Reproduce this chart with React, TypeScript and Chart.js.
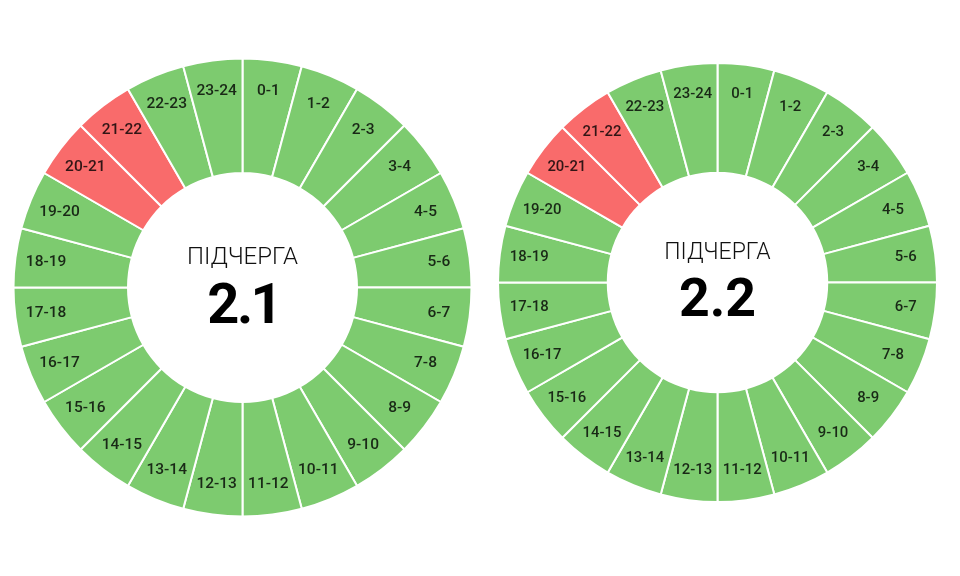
import React, { useEffect, useRef } from "react";
import { Chart, registerables } from "chart.js";

Chart.register(...registerables);

const hourLabels = [
  "0-1", "1-2", "2-3", "3-4", "4-5", "5-6", "6-7", "7-8", "8-9", "9-10", "10-11", "11-12",
  "12-13", "13-14", "14-15", "15-16", "16-17", "17-18", "18-19", "19-20", "20-21", "21-22", "22-23", "23-24",
];

// every hour slot has equal weight
const slotValues = [1, 1, 1, 1, 1, 1, 1, 1, 1, 1, 1, 1, 1, 1, 1, 1, 1, 1, 1, 1, 1, 1, 1, 1];

// 0 = power on (green), 1 = outage (red)
const status21 = [0, 0, 0, 0, 0, 0, 0, 0, 0, 0, 0, 0, 0, 0, 0, 0, 0, 0, 0, 0, 1, 1, 0, 0];
const status22 = [0, 0, 0, 0, 0, 0, 0, 0, 0, 0, 0, 0, 0, 0, 0, 0, 0, 0, 0, 0, 1, 1, 0, 0];

const GREEN = "#7dcb6f";
const RED = "#f96b6b";

const segLabelPlugin = {
  id: "segLabels",
  afterDatasetsDraw(chart: any, _args: any, opts: any) {
    const meta = chart.getDatasetMeta(0);
    const ctx = chart.ctx;
    const s = opts.scale || 1;
    ctx.save();
    ctx.textAlign = "center";
    ctx.textBaseline = "middle";
    ctx.fillStyle = "rgba(0,0,0,0.8)";
    ctx.font = `500 ${Math.round(15.5 * s * 10) / 10}px Roboto`;
    let cx = 0;
    let cy = 0;
    meta.data.forEach((arc: any, i: number) => {
      const p = arc.getProps(["x", "y", "startAngle", "endAngle", "innerRadius", "outerRadius"], true);
      cx = p.x;
      cy = p.y;
      const a = (p.startAngle + p.endAngle) / 2;
      const r = p.innerRadius + (p.outerRadius - p.innerRadius) * opts.frac;
      ctx.fillText(chart.data.labels[i], p.x + Math.cos(a) * r, p.y + Math.sin(a) * r);
    });
    ctx.textBaseline = "alphabetic";
    ctx.fillStyle = "#111";
    ctx.font = `300 ${24 * s}px Roboto`;
    ctx.fillText(opts.title, cx, cy - 24 * s);
    ctx.fillStyle = "#000";
    ctx.font = `bold ${56 * s}px Roboto`;
    (ctx as any).letterSpacing = `${opts.numSpacing || 0}px`;
    ctx.fillText(opts.number, cx - (opts.numSpacing || 0) / 2, cy + 35 * s);
    ctx.restore();
  },
};

function Donut(props: {
  left: number;
  top: number;
  size: number;
  radius: number;
  status: number[];
  number: string;
  numSpacing: number;
}) {
  const ref = useRef<HTMLCanvasElement>(null);
  useEffect(() => {
    if (!ref.current) return;
    const chart = new Chart(ref.current, {
      type: "doughnut",
      data: {
        labels: hourLabels,
        datasets: [
          {
            data: slotValues,
            backgroundColor: props.status.map((v) => (v ? RED : GREEN)),
            borderColor: "#ffffff",
            borderWidth: 2,
            hoverOffset: 0,
          },
        ],
      },
      options: {
        animation: false,
        responsive: false,
        radius: props.radius,
        cutout: "50%",
        layout: { padding: 0 },
        events: [],
        plugins: {
          legend: { display: false },
          tooltip: { enabled: false },
          segLabels: {
            frac: 0.73,
            title: "ПІДЧЕРГА",
            number: props.number,
            scale: props.radius / 229,
            numSpacing: props.numSpacing,
          },
        } as any,
      } as any,
      plugins: [segLabelPlugin],
    });
    return () => chart.destroy();
  }, []);
  return (
    <canvas
      ref={ref}
      width={props.size}
      height={props.size}
      style={{ position: "absolute", left: props.left, top: props.top, width: props.size, height: props.size }}
    />
  );
}

export default function App() {
  return (
    <div style={{ position: "absolute", left: 0, top: 0, width: 960, height: 576, background: "#fff", overflow: "hidden" }}>
      <Donut left={7} top={52} size={471} radius={229} status={status21} number="2.1" numSpacing={-2.5} />
      <Donut left={492} top={57} size={451} radius={219.5} status={status22} number="2.2" numSpacing={0} />
    </div>
  );
}
